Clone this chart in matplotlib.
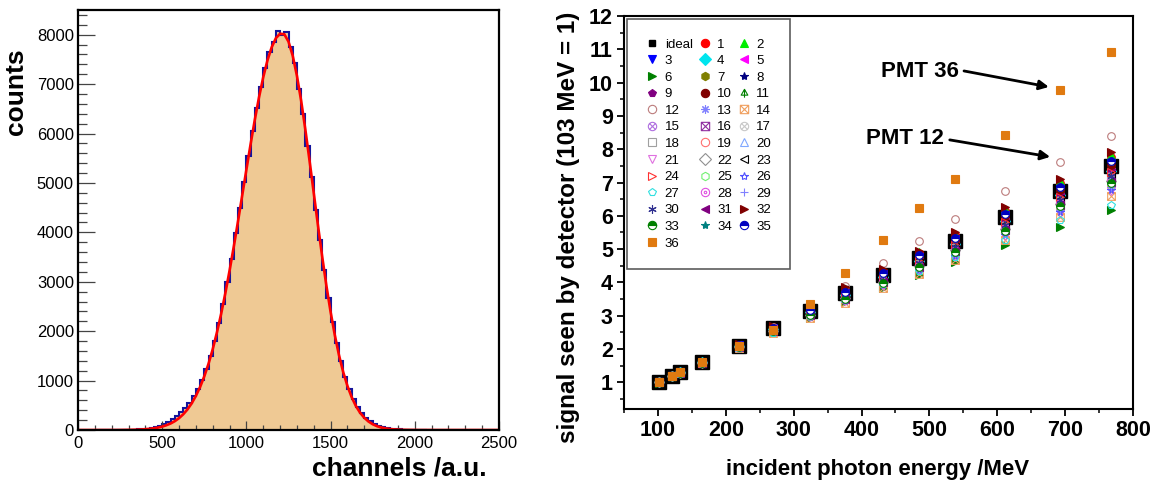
import numpy as np
import matplotlib
matplotlib.use("Agg")
import matplotlib.pyplot as plt
from matplotlib.path import Path
from matplotlib.lines import Line2D
from matplotlib.ticker import MultipleLocator

plt.rcParams['font.family'] = ['Liberation Sans', 'DejaVu Sans']

# pulse height spectrum of one PMT, 25 channel bins starting at channel 100
bin_width = 25
hist_start = 100
hist_counts = [2, 3, 3, 4, 4, 5, 6, 7, 8, 10, 13, 18, 26, 38, 55, 85,
               125, 170, 225, 290, 370, 450, 550, 680, 830, 1010, 1230, 1500,
               1800, 2160, 2560, 2990, 3470, 3980, 4500, 5010, 5540, 6050,
               6520, 6950, 7330, 7640, 7860, 8070, 8000, 8060, 7760, 7420,
               6900, 6400, 5740, 5130, 4450, 3850, 3240, 2680, 2190, 1760,
               1390, 1080, 830, 620, 460, 340, 245, 175, 125, 88, 62, 43, 30,
               21, 15, 10, 7, 5, 3, 2, 1]

# fitted curve, sampled every 25 channels from 0 to 2500
fit_step = 25
fit_counts = [0, 0, 0, 0, 0, 0, 0, 0, 0, 0, 1, 2, 3, 5, 7, 11, 16, 24, 35,
              49, 69, 97, 132, 179, 240, 318, 416, 539, 690, 870, 1087, 1340,
              1635, 1975, 2350, 2770, 3225, 3710, 4220, 4745, 5270, 5785,
              6280, 6735, 7140, 7480, 7745, 7930, 8020, 8010, 7860, 7575,
              7170, 6665, 6080, 5450, 4795, 4140, 3510, 2920, 2390, 1920,
              1512, 1170, 892, 665, 487, 350, 248, 172, 117, 78, 51, 33, 21,
              13, 8, 5, 3, 2, 1,
              0, 0, 0, 0, 0, 0, 0, 0, 0, 0, 0, 0, 0, 0, 0, 0, 0, 0, 0, 0]

# detector response vs photon energy
energy = [102, 121, 133, 165, 220, 270, 324, 376, 431, 485, 537, 611, 693, 768]
ideal = [1.00, 1.19, 1.30, 1.60, 2.10, 2.62, 3.13, 3.67, 4.21, 4.73, 5.24, 5.95, 6.75, 7.50]
pmt_signal = [
    [1.00, 1.19, 1.30, 1.61, 2.12, 2.66, 3.19, 3.76, 4.32, 4.87, 5.41, 6.15, 6.98, 7.76],
    [1.00, 1.19, 1.31, 1.61, 2.13, 2.67, 3.21, 3.78, 4.35, 4.91, 5.45, 6.20, 7.05, 7.84],
    [1.00, 1.19, 1.30, 1.60, 2.11, 2.63, 3.15, 3.69, 4.24, 4.77, 5.29, 6.01, 6.82, 7.58],
    [1.00, 1.19, 1.30, 1.60, 2.09, 2.60, 3.10, 3.62, 4.15, 4.65, 5.15, 5.84, 6.62, 7.35],
    [1.00, 1.19, 1.30, 1.59, 2.08, 2.59, 3.09, 3.61, 4.13, 4.63, 5.12, 5.81, 6.58, 7.31],
    [0.99, 1.18, 1.29, 1.58, 2.06, 2.52, 2.92, 3.40, 3.82, 4.22, 4.62, 5.12, 5.67, 6.19],
    [1.00, 1.19, 1.30, 1.60, 2.10, 2.61, 3.12, 3.66, 4.19, 4.71, 5.22, 5.92, 6.72, 7.46],
    [1.00, 1.19, 1.30, 1.60, 2.10, 2.62, 3.13, 3.67, 4.21, 4.73, 5.24, 5.95, 6.75, 7.50],
    [1.00, 1.19, 1.30, 1.60, 2.09, 2.60, 3.10, 3.63, 4.16, 4.67, 5.17, 5.87, 6.65, 7.39],
    [1.00, 1.19, 1.30, 1.60, 2.10, 2.63, 3.14, 3.68, 4.23, 4.75, 5.26, 5.98, 6.78, 7.54],
    [1.00, 1.19, 1.30, 1.59, 2.08, 2.58, 3.06, 3.57, 4.08, 4.57, 5.05, 5.72, 6.49, 7.20],
    [1.00, 1.19, 1.31, 1.61, 2.12, 2.66, 3.22, 3.90, 4.57, 5.25, 5.90, 6.74, 7.63, 8.40],
    [1.00, 1.19, 1.30, 1.59, 2.08, 2.58, 3.07, 3.59, 4.10, 4.59, 5.08, 5.75, 6.52, 7.24],
    [1.00, 1.18, 1.29, 1.57, 2.02, 2.49, 2.92, 3.38, 3.83, 4.26, 4.67, 5.27, 5.96, 6.60],
    [1.00, 1.19, 1.29, 1.58, 2.06, 2.55, 3.02, 3.51, 4.00, 4.48, 4.93, 5.58, 6.32, 7.01],
    [1.00, 1.19, 1.30, 1.59, 2.07, 2.57, 3.05, 3.56, 4.07, 4.55, 5.03, 5.70, 6.45, 7.16],
    [1.00, 1.19, 1.30, 1.58, 2.06, 2.55, 3.03, 3.52, 4.01, 4.47, 4.94, 5.59, 6.31, 7.01],
    [1.00, 1.19, 1.30, 1.59, 2.07, 2.57, 3.06, 3.56, 4.06, 4.56, 5.02, 5.69, 6.46, 7.16],
    [1.00, 1.19, 1.29, 1.58, 2.05, 2.53, 2.99, 3.48, 3.96, 4.42, 4.86, 5.50, 6.22, 6.90],
    [1.00, 1.19, 1.29, 1.59, 2.07, 2.56, 3.04, 3.54, 4.04, 4.51, 4.98, 5.64, 6.39, 7.09],
    [1.00, 1.18, 1.29, 1.58, 2.04, 2.51, 2.96, 3.43, 3.89, 4.34, 4.77, 5.39, 6.09, 6.75],
    [1.00, 1.19, 1.29, 1.59, 2.06, 2.55, 3.03, 3.53, 4.02, 4.49, 4.96, 5.61, 6.35, 7.05],
    [1.00, 1.19, 1.30, 1.59, 2.08, 2.58, 3.07, 3.58, 4.10, 4.59, 5.07, 5.75, 6.52, 7.24],
    [1.00, 1.19, 1.30, 1.59, 2.08, 2.59, 3.09, 3.61, 4.13, 4.63, 5.12, 5.81, 6.58, 7.31],
    [1.00, 1.19, 1.29, 1.58, 2.05, 2.54, 3.00, 3.49, 3.97, 4.44, 4.89, 5.53, 6.25, 6.94],
    [1.00, 1.18, 1.29, 1.58, 2.04, 2.52, 2.97, 3.44, 3.91, 4.36, 4.79, 5.41, 6.12, 6.79],
    [1.00, 1.18, 1.29, 1.57, 2.03, 2.49, 3.00, 3.50, 3.95, 4.35, 4.75, 5.27, 5.87, 6.32],
    [1.00, 1.19, 1.30, 1.59, 2.06, 2.56, 3.03, 3.53, 4.04, 4.52, 4.98, 5.64, 6.38, 7.09],
    [1.00, 1.19, 1.29, 1.58, 2.05, 2.53, 2.98, 3.46, 3.94, 4.40, 4.84, 5.47, 6.19, 6.86],
    [1.00, 1.19, 1.30, 1.59, 2.08, 2.58, 3.06, 3.57, 4.08, 4.57, 5.05, 5.72, 6.48, 7.20],
    [1.00, 1.19, 1.29, 1.58, 2.06, 2.55, 3.02, 3.51, 4.00, 4.47, 4.93, 5.58, 6.32, 7.01],
    [1.00, 1.20, 1.31, 1.62, 2.15, 2.70, 3.25, 3.85, 4.40, 4.95, 5.50, 6.27, 7.12, 7.93],
    [1.00, 1.19, 1.29, 1.58, 2.06, 2.54, 3.01, 3.50, 3.99, 4.46, 4.91, 5.55, 6.29, 6.98],
    [1.00, 1.19, 1.30, 1.60, 2.11, 2.64, 3.16, 3.71, 4.26, 4.79, 5.31, 6.04, 6.85, 7.61],
    [1.00, 1.19, 1.30, 1.60, 2.11, 2.64, 3.16, 3.72, 4.27, 4.81, 5.33, 6.06, 6.88, 7.65],
    [1.00, 1.19, 1.31, 1.61, 2.08, 2.58, 3.34, 4.27, 5.27, 6.23, 7.12, 8.44, 9.78, 10.93],
]
pmt_labels = [str(i) for i in range(1, 37)]

# a few ROOT-like symbols that matplotlib does not have
M, L, C = Path.MOVETO, Path.LINETO, Path.CLOSEPOLY
diag = Path([(-0.7, -0.7), (0.7, 0.7), (-0.7, 0.7), (0.7, -0.7)], [M, L, M, L])
box = Path([(-1, -1), (1, -1), (1, 1), (-1, 1), (-1, -1)], [M, L, L, L, C])
box_x = Path.make_compound_path(box, Path([(-1, -1), (1, 1), (-1, 1), (1, -1)], [M, L, M, L]))
circle_x = Path.make_compound_path(Path.unit_circle(), diag)
circle_dot = Path.make_compound_path(Path.unit_circle(), Path.circle((0, 0), 0.3))
tree = Path.make_compound_path(
    Path([(0, 1), (-0.8, -0.4), (0.8, -0.4), (0, 1)], [M, L, L, C]),
    Path([(0, 1), (0, -1)], [M, L]))

# marker, colour, fill for PMT 1..36
pmt_style = [
    ('o', '#ff0000', 'full'), ('^', '#00ee00', 'full'), ('v', '#0000ff', 'full'),
    ('D', '#00e5ee', 'full'), ('<', '#ff00ff', 'full'), ('>', '#008000', 'full'),
    ('h', '#808000', 'full'), ('*', '#000080', 'full'), ('p', '#800080', 'full'),
    ('o', '#800000', 'full'), (tree, '#008000', 'none'), ('o', '#bc7c7c', 'none'),
    ((8, 2, 0), '#8080ff', 'none'), (box_x, '#f0a060', 'none'), (circle_x, '#b070e0', 'none'),
    (box_x, '#9030a0', 'none'), (circle_x, '#c8c8c8', 'none'), ('s', '#a0a0a0', 'none'),
    ('o', '#ff7070', 'none'), ('^', '#80a8ff', 'none'), ('v', '#e070e0', 'none'),
    ('D', '#909090', 'none'), ('<', '#000000', 'none'), ('>', '#ff3030', 'none'),
    ('h', '#70f070', 'none'), ('*', '#5050ff', 'none'), ('p', '#30e0e0', 'none'),
    (circle_dot, '#e050e0', 'none'), ('+', '#8080ff', 'none'), ((6, 2, 0), '#303090', 'none'),
    ('<', '#800080', 'full'), ('>', '#800000', 'full'), ('o', '#008000', 'top'),
    ('*', '#008080', 'full'), ('o', '#0000c0', 'top'), ('s', '#e07a10', 'full'),
]


def style_kw(marker, color, fill, size):
    kw = dict(linestyle='none', marker=marker, markersize=size,
              markeredgecolor=color, markeredgewidth=0.8)
    if fill == 'none':
        kw['markerfacecolor'] = 'none'
    elif fill == 'top':
        kw.update(markerfacecolor=color, fillstyle='top', markerfacecoloralt='white')
    else:
        kw['markerfacecolor'] = color
    return kw


fig = plt.figure(figsize=(11.57, 4.87), dpi=100)
W, H = 1157, 487

# ---------------- left: spectrum ----------------
ax1 = fig.add_axes([78 / W, 1 - 430 / H, 421 / W, 420 / H])
edges = hist_start + bin_width * np.arange(len(hist_counts) + 1)
ax1.stairs(hist_counts, edges, fill=True, color='#efc994', lw=0)
ax1.stairs(hist_counts, edges, color='#14149c', lw=1.5)
fit_x = fit_step * np.arange(len(fit_counts))
ax1.plot(fit_x, fit_counts, color='#ff0000', lw=1.9)

ax1.set_xlim(0, 2500)
ax1.set_ylim(0, 8500)
ax1.set_xticks(range(0, 2501, 500))
ax1.xaxis.set_minor_locator(MultipleLocator(100))
ax1.set_yticks(range(0, 8001, 1000))
ax1.yaxis.set_minor_locator(MultipleLocator(200))
ax1.tick_params(which='both', direction='in', top=False, right=False,
                labelsize=12, color='#444444')
ax1.tick_params(axis='y', which='major', length=12.5, width=0.9, pad=3)
ax1.tick_params(axis='y', which='minor', length=6.5, width=0.9)
ax1.tick_params(axis='x', which='major', length=6.5, width=0.9, pad=4)
ax1.tick_params(axis='x', which='minor', length=3.5, width=0.9)
for s in ax1.spines.values():
    s.set_linewidth(1.6)

fig.text(16 / W, 1 - 92 / H, 'counts', rotation=90, fontsize=19,
         fontweight='bold', ha='center', va='center')
fig.text(487 / W, 1 - 468 / H, 'channels /a.u.', fontsize=19,
         fontweight='bold', ha='right', va='center')

# ---------------- right: linearity ----------------
ax2 = fig.add_axes([624 / W, 1 - 409 / H, 509 / W, 393 / H])
ax2.plot(energy, ideal, linestyle='none', marker='s', markersize=9.5,
         color='black', zorder=2)
for i, row in enumerate(pmt_signal):
    marker, color, fill = pmt_style[i]
    size = 5.2 if i == 35 else 5.5
    ax2.plot(energy, row, zorder=3, **style_kw(marker, color, fill, size))

ax2.set_xlim(50, 800)
ax2.set_ylim(0.2, 12)
ax2.set_xticks(range(100, 801, 100))
ax2.xaxis.set_minor_locator(MultipleLocator(50))
ax2.set_yticks(range(1, 13))
ax2.yaxis.set_minor_locator(MultipleLocator(0.5))
ax2.tick_params(which='both', direction='out', top=False, right=False)
ax2.tick_params(which='major', length=5, width=1.3, labelsize=15.5, pad=3)
ax2.tick_params(which='minor', length=3, width=1.1)
plt.setp(ax2.get_xticklabels() + ax2.get_yticklabels(), fontweight='bold')
for s in ax2.spines.values():
    s.set_linewidth(1.5)

# legend, filled row by row like the original canvas
handles = [Line2D([], [], linestyle='none', marker='s', markersize=5,
                  color='black')]
for marker, color, fill in pmt_style:
    handles.append(Line2D([], [], **style_kw(marker, color, fill, 6)))
labels = ['ideal'] + pmt_labels
order = list(range(0, 37, 3)) + list(range(1, 37, 3)) + list(range(2, 37, 3))
leg = ax2.legend([handles[k] for k in order], [labels[k] for k in order],
                 ncol=3, loc='upper left', bbox_to_anchor=(0.006, 0.992),
                 fontsize=9.5, handlelength=0.9, handletextpad=0.5,
                 columnspacing=0.45, labelspacing=0.33, borderpad=1.45,
                 frameon=True, fancybox=False, edgecolor='#333333',
                 borderaxespad=0)
leg.get_frame().set_linewidth(1.2)

ax2.text(543, 10.32, 'PMT 36', fontsize=16, fontweight='bold',
         ha='right', va='center')
ax2.annotate('', xy=(676, 9.87), xytext=(551, 10.35),
             arrowprops=dict(arrowstyle='-|>', color='black', lw=2,
                             mutation_scale=14, shrinkA=0, shrinkB=0))
ax2.text(521, 8.31, 'PMT 12', fontsize=16, fontweight='bold',
         ha='right', va='center')
ax2.annotate('', xy=(678, 7.77), xytext=(530, 8.28),
             arrowprops=dict(arrowstyle='-|>', color='black', lw=2,
                             mutation_scale=14, shrinkA=0, shrinkB=0))

fig.text(568 / W, 1 - 227 / H, 'signal seen by detector (103 MeV = 1)',
         rotation=90, fontsize=17.5, fontweight='bold', ha='center', va='center')
fig.text(878 / W, 1 - 470 / H, 'incident photon energy /MeV', fontsize=16,
         fontweight='bold', ha='center', va='center')

fig.savefig('out.png', dpi=100)
